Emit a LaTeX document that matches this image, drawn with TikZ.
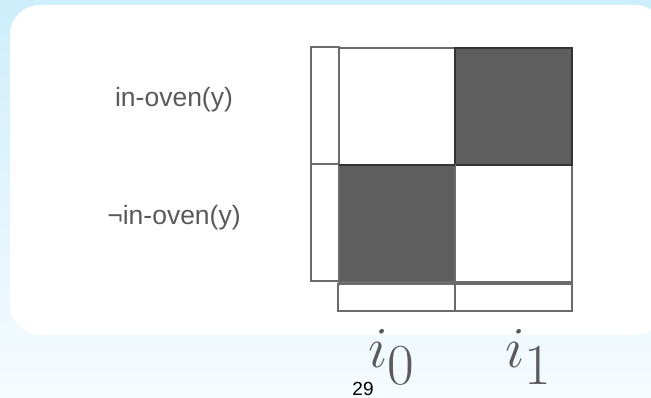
\RequirePackage{fix-cm}
\documentclass[tikz,border=0pt]{standalone}
\usepackage[no-math]{fontspec}
\newfontfamily\helv{Liberation Sans}
\usepackage{amssymb,amsmath}
\definecolor{sky}{HTML}{CDEEFC}
\definecolor{skylow}{HTML}{F6FBFE}
\definecolor{edge}{HTML}{6B6B6B}
\definecolor{dark}{HTML}{5E5E5E}
\definecolor{txt}{HTML}{5A5A5A}

\begin{document}
\begin{tikzpicture}[x=1pt, y=-1pt,
	cell/.style={draw=edge, line width=2pt},
	shaded/.style={cell, fill=dark},
	lab/.style={font=\helv\fontsize{26.5}{30}\selectfont, text=txt},
	idx/.style={font=\fontsize{58}{60}\selectfont, text=txt, inner sep=0pt, anchor=base west}]
		\useasboundingbox (0,0) rectangle (651,398);
		% background and slide panel
		\shade[top color=sky, bottom color=skylow] (0,0) rectangle (651,398);
		\fill[white, rounded corners=30pt] (10,5) rectangle (665,335);
		% left column
		\foreach \r in {0,1} {
			\draw[cell] (311,47+117*\r) rectangle ++(28,117);
		}
		% bottom row
		\foreach \c in {0,1} {
			\draw[cell] (338+117*\c,284) rectangle ++(117,27);
		}
		% table cells
		\draw[cell, fill=white] (339,48) rectangle (455,165);
		\draw[cell, fill=white] (455,165) rectangle (572,282);
		\draw[shaded, draw=black!80] (455,48) rectangle (572,165);
		\draw[shaded] (339,165) rectangle (455,282);
		\draw[black!80, line width=2pt] (339,165) -- (455,165);
		% labels
		\node[lab] (pos) at (174,100) {in-oven(y)};
		\node[lab] (neg) at (174,218) {¬in-oven(y)};
		\node[idx] (i0) at (368,367) {$i_{\textstyle 0}$};
		\node[idx] (i1) at (505,367) {$i_{\textstyle 1}$};
		\node[font=\helv\fontsize{19}{20}\selectfont] (pg) at (363,389) {29};
	\end{tikzpicture}
\end{document}
